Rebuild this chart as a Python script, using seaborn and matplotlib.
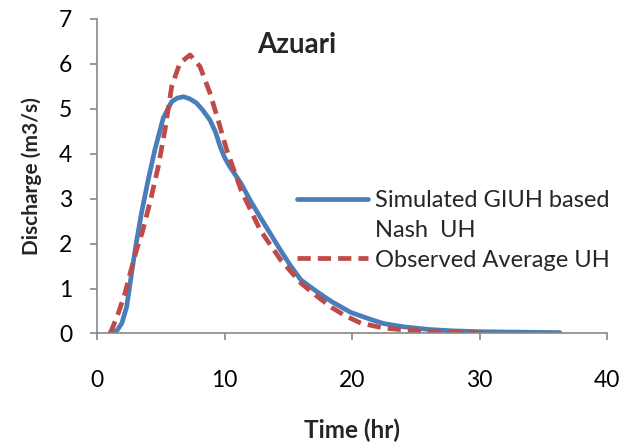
import matplotlib
matplotlib.use("Agg")
import matplotlib.pyplot as plt
from matplotlib.lines import Line2D
import seaborn as sns
import pandas as pd

# Simulated GIUH based Nash unit hydrograph
sim_time = [1.2, 1.6, 1.95, 2.33, 2.6, 2.85, 3.1, 3.5, 4.0, 4.55, 5.2, 5.86, 6.3,
            6.8, 7.3, 7.8, 8.3, 8.86, 9.3, 9.65, 10.0, 10.4, 11.3, 12.0, 12.8,
            13.6, 14.4, 15.2, 16.0, 17.2, 18.4, 19.9, 21.5, 22.5, 24.0, 26.0,
            27.8, 30.0, 33.0, 36.3]
sim_q = [0.0, 0.08, 0.23, 0.6, 1.12, 1.6, 2.05, 2.7, 3.4, 4.1, 4.8, 5.16, 5.24,
         5.27, 5.22, 5.13, 4.97, 4.75, 4.48, 4.17, 3.92, 3.72, 3.34, 2.97, 2.59,
         2.22, 1.85, 1.5, 1.19, 0.94, 0.71, 0.47, 0.31, 0.22, 0.15, 0.09,
         0.06, 0.04, 0.03, 0.02]

# Observed average unit hydrograph
obs_time = [1.0, 1.15, 1.67, 2.2, 2.6, 3.1, 3.55, 4.2, 4.8, 5.33, 5.86, 6.5, 7.3,
            8.08, 8.86, 9.5, 10.17, 11.3, 12.8, 14.4, 16.0, 17.2, 18.4, 19.5,
            20.7, 22.5, 24.5, 26.5, 30.4]
obs_q = [0.0, 0.08, 0.45, 0.9, 1.34, 1.86, 2.25, 2.97, 3.71, 4.53, 5.5, 6.02, 6.2,
         5.94, 5.35, 4.75, 4.09, 3.19, 2.3, 1.64, 1.12, 0.84, 0.58, 0.39,
         0.23, 0.12, 0.07, 0.04, 0.01]

sim_label = "Simulated GIUH based"
sim_label_cont = "Nash  UH"
obs_label = "Observed Average UH"
x_ticks = [0, 10, 20, 30, 40]
y_ticks = [0, 1, 2, 3, 4, 5, 6, 7]

BLUE = "#4A7EBB"
RED = "#BE4B48"

sns.set_theme(style="white")
plt.rcParams["font.family"] = ["Lato", "DejaVu Sans"]

df = pd.concat([
    pd.DataFrame({"Time": sim_time, "Q": sim_q, "Series": "sim"}),
    pd.DataFrame({"Time": obs_time, "Q": obs_q, "Series": "obs"}),
], ignore_index=True)

fig = plt.figure(figsize=(6.25, 4.48), dpi=100)
ax = fig.add_axes([0.1552, 0.2556, 0.816, 0.702])

sns.lineplot(data=df, x="Time", y="Q", hue="Series", style="Series",
             palette={"sim": BLUE, "obs": RED},
             dashes={"sim": "", "obs": (2.8, 1.5)},
             linewidth=3.4, ax=ax, sort=False, legend=False)

ax.set_xlim(0, 40)
ax.set_ylim(0, 7)
ax.set_xticks(x_ticks)
ax.set_yticks(y_ticks)
ax.tick_params(axis="both", labelsize=16.5, length=5, width=1.2,
               direction="out", left=True, bottom=True, color="#888888",
               labelcolor="black")
ax.tick_params(axis="x", pad=21)
ax.tick_params(axis="y", pad=13)
for side in ["top", "right"]:
    ax.spines[side].set_visible(False)
for side in ["left", "bottom"]:
    ax.spines[side].set_color("#888888")
    ax.spines[side].set_linewidth(1.2)

ax.set_xlabel("Time (hr)", fontsize=17.5, fontweight="bold", labelpad=20)
ax.set_ylabel("Discharge (m3/s)", fontsize=15, fontweight="bold", labelpad=12)
ax.text(0.392, 0.892, "Azuari", transform=ax.transAxes, ha="center",
        va="baseline", fontsize=20, fontweight="bold")

handles = [
    Line2D([], [], color=BLUE, linewidth=3.4),
    Line2D([], [], color="none", linewidth=0),
    Line2D([], [], color=RED, linewidth=3.4, dashes=(2.8, 1.5)),
]
ax.legend(handles, [sim_label, sim_label_cont, obs_label], loc="upper left",
          bbox_to_anchor=(0.393, 0.457), frameon=False, fontsize=17,
          handlelength=3.0, handletextpad=0.28, labelspacing=0.38,
          borderaxespad=0, borderpad=0)

fig.savefig("out.png", dpi=100)
